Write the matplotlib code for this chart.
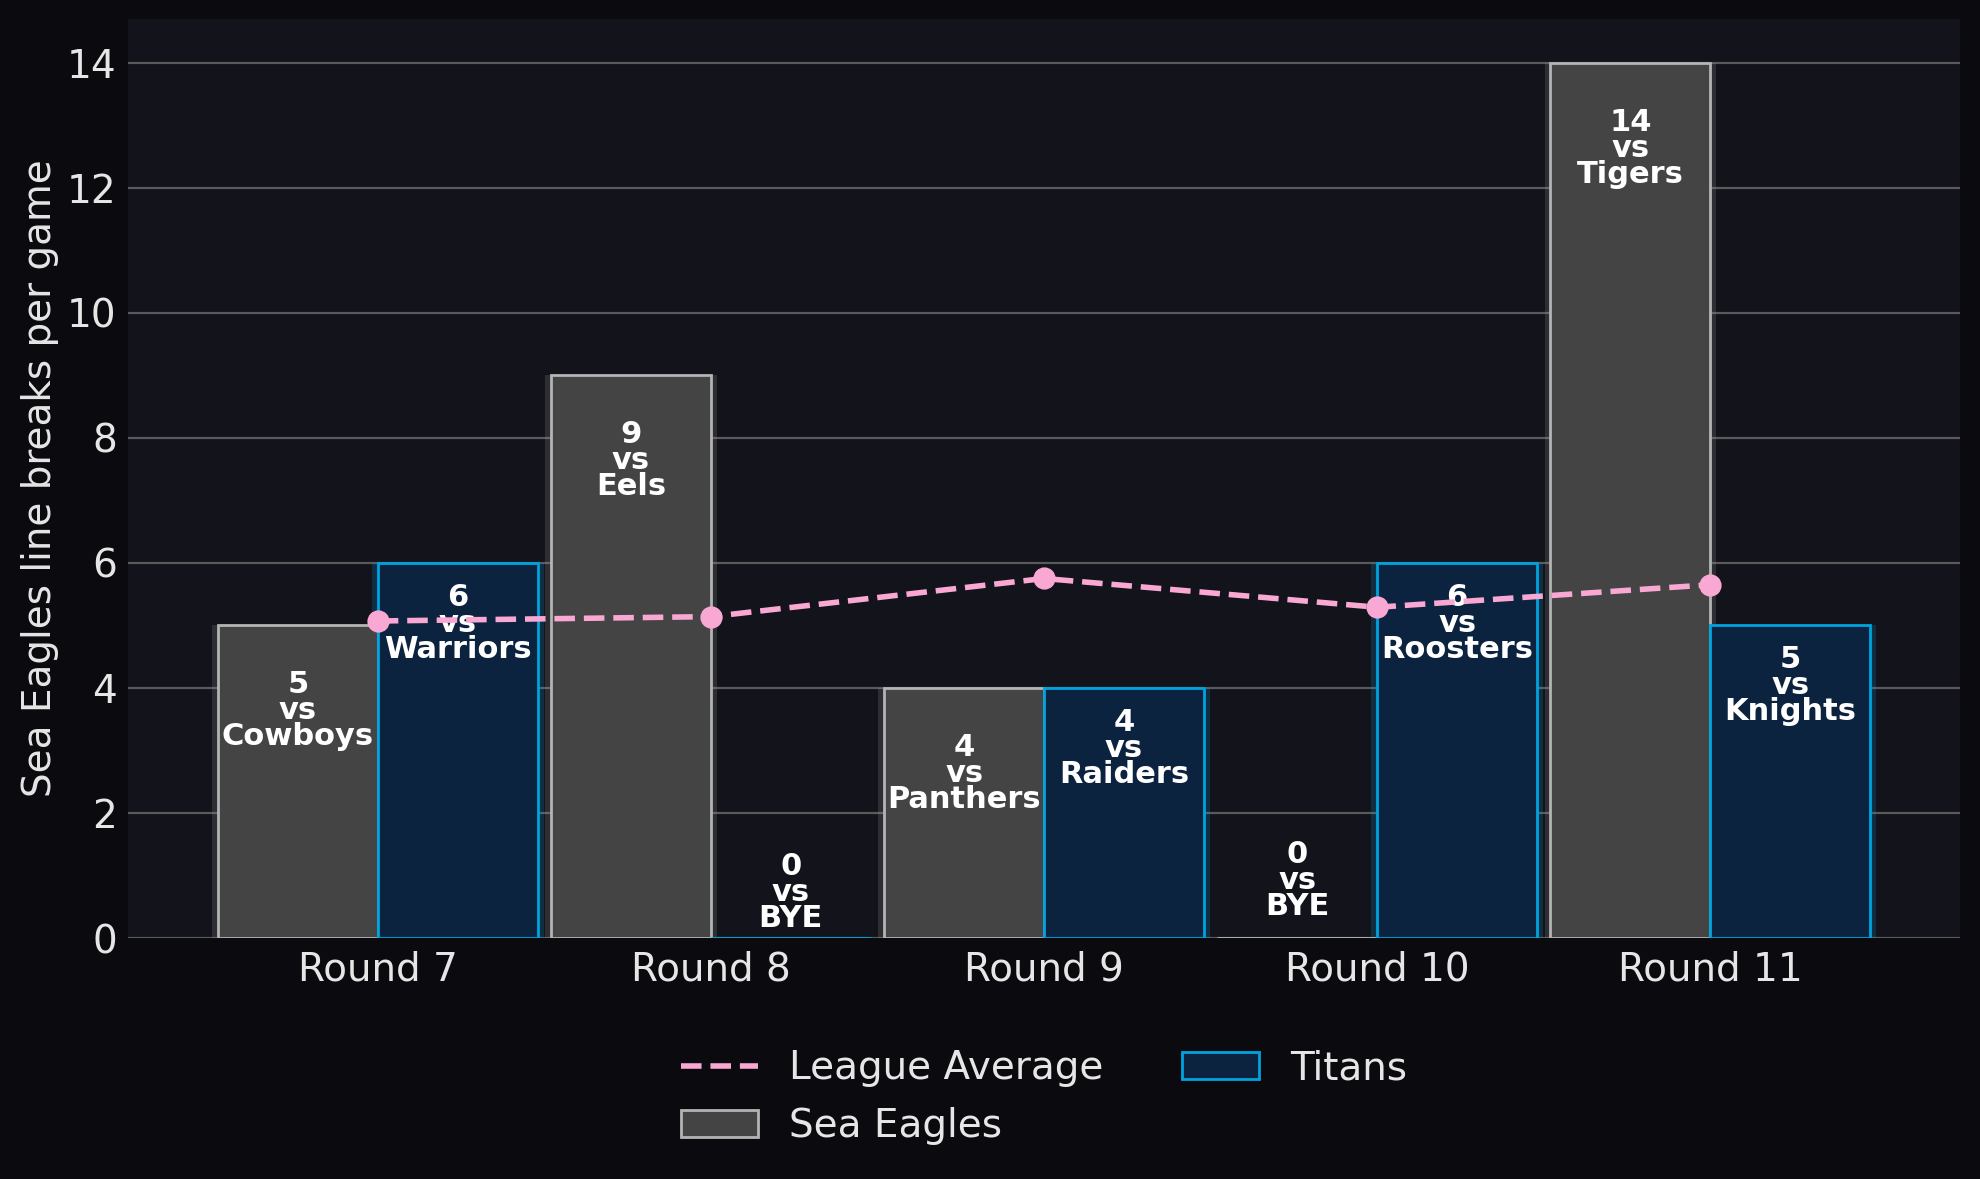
import matplotlib
matplotlib.use("Agg")
import matplotlib.pyplot as plt
import numpy as np

rounds = ["Round 7", "Round 8", "Round 9", "Round 10", "Round 11"]
sea_eagles = [5, 9, 4, 0, 14]
sea_eagles_opp = ["Cowboys", "Eels", "Panthers", "BYE", "Tigers"]
titans = [6, 0, 4, 6, 5]
titans_opp = ["Warriors", "BYE", "Raiders", "Roosters", "Knights"]
league_avg = [5.07, 5.14, 5.75, 5.29, 5.65]

fig_bg = "#0b0b0f"
ax_bg = "#12131b"
text_col = "#e6e6e6"

fig, ax = plt.subplots(figsize=(9.9, 5.895), dpi=200)
fig.patch.set_facecolor(fig_bg)
ax.set_facecolor(ax_bg)
fig.subplots_adjust(left=0.0646, right=0.99, top=0.984, bottom=0.2044)

x = np.arange(len(rounds))
w = 0.48

# soft glow behind the bars
ax.bar(x - w / 2, sea_eagles, w + 0.035, color="#9a9a9a", alpha=0.2, linewidth=0, zorder=1)
ax.bar(x + w / 2, titans, w + 0.035, color="#00a3e0", alpha=0.2, linewidth=0, zorder=1)

ax.bar(x - w / 2, sea_eagles, w, color="#444444", edgecolor="#b4b4b4", linewidth=1.0,
       label="Sea Eagles", zorder=3)
ax.bar(x + w / 2, titans, w, color="#0c2340", edgecolor="#00a3e0", linewidth=1.0,
       label="Titans", zorder=3)

ax.plot(x, league_avg, color="#f9a8d4", linestyle="--", linewidth=2,
        label="League Average", zorder=7)
ax.plot(x, league_avg, color="#f9a8d4", linestyle="none", marker="o",
        markersize=7, zorder=7)

# labels inside bars (titans labels sit a bit higher)
for vals, opps, off, drop, zero_y in [(sea_eagles, sea_eagles_opp, -w / 2, 0.72, 1.56),
                                      (titans, titans_opp, w / 2, 0.32, 1.38)]:
    for i, (v, o) in enumerate(zip(vals, opps)):
        y = v - drop if v > 0 else zero_y
        ax.text(i + off, y, f"{v}\nvs\n{o}", ha="center", va="top", color="white",
                fontsize=11, fontweight="bold", linespacing=0.87, zorder=6)

ax.set_xlim(-0.75, 4.75)
ax.set_ylim(0, 14.7)
ax.set_yticks(range(0, 15, 2))
ax.set_xticks(x)
ax.set_xticklabels(rounds)
ax.tick_params(axis="both", length=0, labelsize=14, labelcolor=text_col)
ax.tick_params(axis="x", pad=4.5)
ax.tick_params(axis="y", pad=4)
ax.set_ylabel("Sea Eagles line breaks per game", fontsize=14, color=text_col, labelpad=3)
ax.grid(axis="y", color="#5a5a5a", linewidth=0.8, zorder=0)
ax.set_axisbelow(True)
for s in ax.spines.values():
    s.set_visible(False)

handles, labels = ax.get_legend_handles_labels()
order = [labels.index("League Average"), labels.index("Sea Eagles"), labels.index("Titans")]
leg = ax.legend([handles[i] for i in order], [labels[i] for i in order], loc="upper center",
                bbox_to_anchor=(0.5, -0.083), ncol=2, frameon=False, fontsize=14)
for t in leg.get_texts():
    t.set_color(text_col)

fig.savefig("out.png", dpi=200, facecolor=fig_bg)
